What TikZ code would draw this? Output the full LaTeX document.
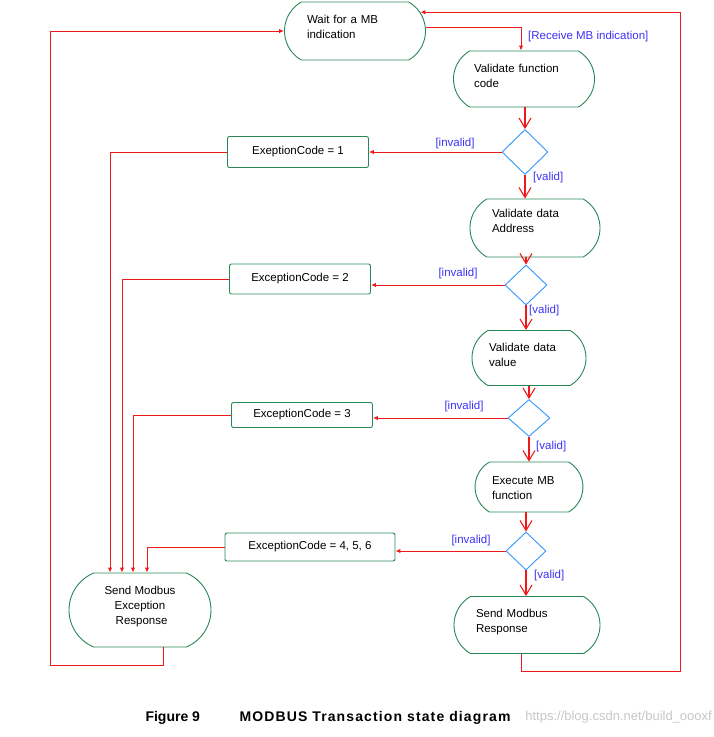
\documentclass[tikz,border=0pt]{standalone}
\usepackage{fontspec}
\setmainfont{Liberation Sans}
\newfontfamily\captionfont[LetterSpace=8]{Liberation Sans}
\usetikzlibrary{shapes.misc,shapes.geometric,arrows.meta}
\definecolor{stategreen}{RGB}{40,135,85}
\definecolor{choiceblue}{RGB}{50,150,255}
\definecolor{guardblue}{RGB}{60,50,245}
\definecolor{flowred}{RGB}{240,25,25}
\begin{document}
\begin{tikzpicture}[
       x=1pt, y=-1pt,
       font=\fontsize{11.5}{15}\selectfont,
       state/.style={
         rounded rectangle,
         rounded rectangle arc length=120,
         draw=stategreen,
         line width=0.9pt,
         align=left,
         text depth=21pt,
         inner sep=2pt
       },
       choice/.style={
         diamond,
         draw=choiceblue,
         line width=0.9pt,
         minimum width=42pt,
         minimum height=40pt,
         inner sep=0pt
       },
       errbox/.style={
         rectangle,
         rounded corners=2pt,
         draw=stategreen,
         line width=0.9pt,
         minimum width=141pt,
         minimum height=30pt
       },
       guard/.style={text=guardblue, inner sep=1pt},
       flow/.style={draw=flowred, line width=1pt, -{Latex[length=5pt,width=4.5pt]}},
       branch/.style={draw=flowred, line width=1.1pt, -{Straight Barb[length=10pt,width=12pt]}}
     ]
       \useasboundingbox (0,0) rectangle (714,737);

       % states of the main column
       \node (wait) at (355,31) [state,text depth=24pt,text width=96pt,minimum width=145pt,minimum height=58pt]{Wait for a MB\\indication};
       \node (valfc) at (524,79) [state,text width=100pt,minimum width=145pt,minimum height=56pt]{Validate function\\code};
       \node (valaddr) at (535,228) [state,text depth=30pt,text width=86pt,minimum width=134pt,minimum height=58pt]{Validate data\\Address};
       \node (valval) at (529,358) [state,text width=80pt,minimum width=118pt,minimum height=55pt]{Validate data\\value};
       \node (exec) at (529,487) [state,text depth=13pt,text width=74pt,minimum width=112pt,minimum height=50pt]{Execute MB\\function};
       \node (sendresp) at (527,625) [state,text depth=23pt,text width=102pt,minimum width=150pt,minimum height=57pt]{Send Modbus\\Response};
       \node (sendexc) at (140,610) [state,align=center,text depth=10pt,rounded rectangle arc length=135,minimum width=146pt,minimum height=74pt]{Send Modbus\\Exception\\ \ Response};

       % decisions
       \node (d1) at (525,152) [choice,minimum width=46pt,minimum height=45pt]{};
       \node (d2) at (526,285) [choice]{};
       \node (d3) at (529,418) [choice,minimum height=37pt]{};
       \node (d4) at (526,551) [choice,minimum width=40pt,minimum height=38pt]{};

       % exception codes
       \node (ec1) at (298,152) [errbox,minimum height=31pt]{ExeptionCode = 1};
       \node (ec2) at (300,279) [errbox]{ExceptionCode = 2};
       \node (ec3) at (302,415) [errbox,minimum height=25pt]{ExceptionCode = 3};
       \node (ec4) at (310,547) [errbox,minimum width=170pt,minimum height=28pt]{ExceptionCode = 4, 5, 6};

       \coordinate (lowleft) at (50,665);
       \coordinate (lowright) at (680,671);

       \draw[flow] ([yshift=4pt]wait.east) -| ([xshift=-3pt]valfc.north);
       \node (rcvlbl) at (527,37) [guard,anchor=west]{[Receive MB indication]};

       \draw[branch] (d1.north |- valfc.south) -- (d1.north);
       \draw[branch] (d1.south) -- (d1.south |- valaddr.north);
       \draw[branch] (valaddr.south -| d2.north) -- (d2.north);
       \draw[branch] (d2.south) -- (d2.south |- valval.north);
       \draw[branch] (valval.south -| d3.north) -- (d3.north);
       \draw[branch] (d3.south) -- (d3.south |- exec.north);
       \draw[branch] (exec.south -| d4.north) -- (d4.north);
       \draw[branch] (d4.south) -- (d4.south |- sendresp.north);

       \draw[flow] (d1.west) -- (ec1.east);
       \draw[flow] (d2.west) -- (d2.west -| ec2.east);
       \draw[flow] (d3.west) -- (d3.west -| ec3.east);
       \draw[flow] (d4.west) -- (d4.west -| ec4.east);

       \node (inv1) at (455,144) [guard]{[invalid]};
       \node (inv2) at (458,274) [guard]{[invalid]};
       \node (inv3) at (464,407) [guard]{[invalid]};
       \node (inv4) at (471,541) [guard]{[invalid]};
       \node (val1) at (532,178) [guard,anchor=west]{[valid]};
       \node (val2) at (528,311) [guard,anchor=west]{[valid]};
       \node (val3) at (535,447) [guard,anchor=west]{[valid]};
       \node (val4) at (533,576) [guard,anchor=west]{[valid]};

       \draw[flow] (ec1.west) -| ([xshift=-30pt]sendexc.north);
       \draw[flow] (ec2.west) -| ([xshift=-18pt]sendexc.north);
       \draw[flow] (ec3.west) -| ([xshift=-7pt]sendexc.north);
       \draw[flow] (ec4.west) -| ([xshift=7pt]sendexc.north);

       \draw[flow] ([xshift=23pt]sendexc.south) |- (lowleft) |- (wait.west);
       \draw[flow] ([xshift=-6pt]sendresp.south) |- (lowright) |- (wait.16);

       % caption
       \node (fig) at (142,718) [anchor=west,font=\bfseries\fontsize{14}{16}\selectfont]{Figure 9};
       \node (title) at (236,718) [anchor=west,font=\captionfont\bfseries\fontsize{14}{16}\selectfont]{MODBUS Transaction state diagram};
       \node (mark) at (713,717) [anchor=east,inner sep=1pt,text=black!22,font=\fontsize{13}{16}\selectfont]{https://blog.csdn.net/build\_oooxf};

\end{tikzpicture}
\end{document}
